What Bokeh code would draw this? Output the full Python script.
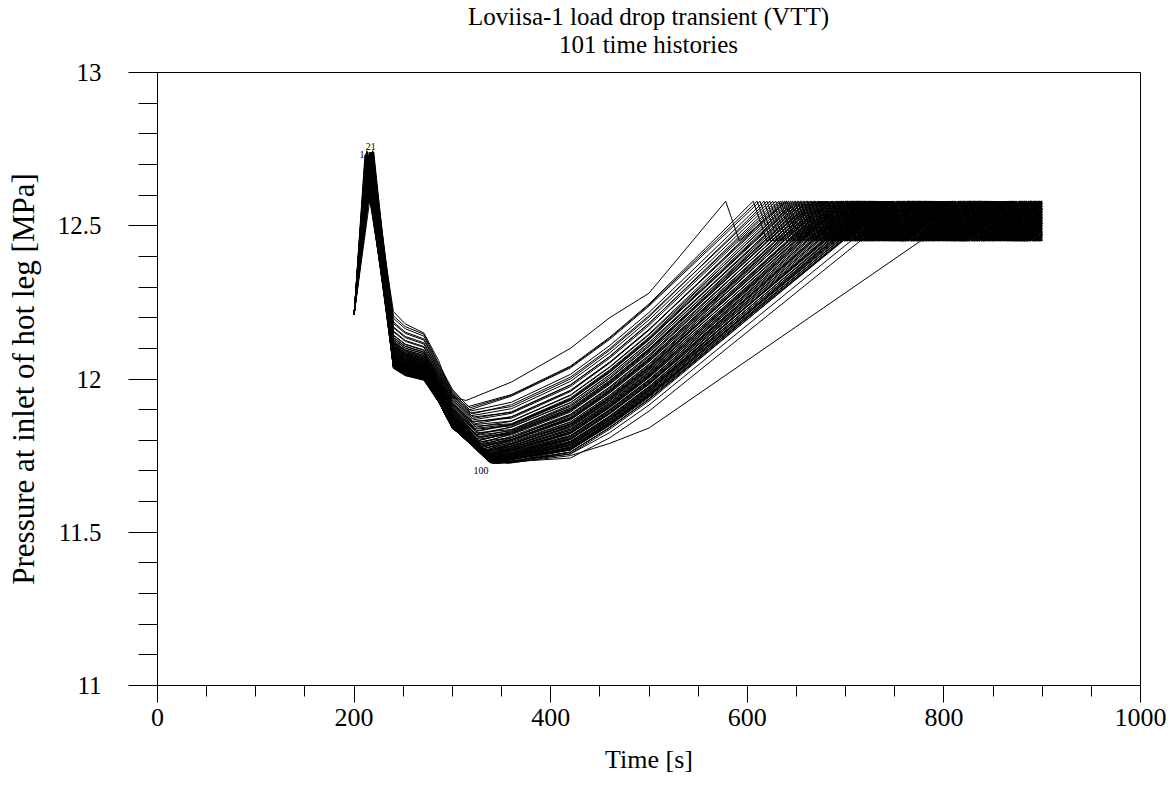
from bokeh.plotting import figure
from bokeh.models import Range1d, SingleIntervalTicker, CustomJSTickFormatter, Div
from bokeh.layouts import column
from bokeh.embed import file_html
from bokeh.resources import INLINE
from bokeh.core.properties import value

# ---------------- data (read / estimated from the picture) ----------------
TITLE_1 = "Loviisa-1 load drop transient (VTT)"
TITLE_2 = "101 time histories"
X_LABEL = "Time [s]"
Y_LABEL = "Pressure at inlet of hot leg [MPa]"

# shared knots of all 101 runs
T_START, P_START = 200, 12.21
T_240, T_252, T_271, T_286, T_300 = 240, 252, 271, 286, 300
T_360, T_420, T_460, T_500 = 360, 420, 460, 500
T_END = 900
P_HI, P_LO = 12.58, 12.45        # pressurizer control band
SAW_DROP, SAW_RISE = 14, 48       # seconds for a drop / a rise inside the band

peak_t = [216, 214, 218, 212, 217, 215, 219, 213, 216, 211,
          218, 214, 216, 220, 213, 217, 215, 212, 219, 216,
          214, 217, 211, 215, 218, 213, 216, 219, 214, 217,
          212, 215, 218, 216, 213, 220, 215, 217, 214, 211,
          216, 218, 213, 215, 219, 214, 217, 212, 216, 218,
          215, 213, 217, 219, 214, 216, 211, 215, 218, 213,
          217, 214, 216, 220, 212, 215, 218, 214, 216, 213,
          219, 215, 217, 212, 216, 214, 218, 215, 213, 217,
          216, 211, 215, 219, 214, 217, 213, 216, 218, 215,
          212, 217, 214, 216, 219, 213, 215, 218, 214, 216, 215]

peak_p = [12.72, 12.70, 12.74, 12.69, 12.73, 12.71, 12.745, 12.68, 12.72, 12.70,
          12.73, 12.69, 12.71, 12.74, 12.68, 12.72, 12.70, 12.735, 12.69, 12.71,
          12.73, 12.70, 12.68, 12.72, 12.74, 12.69, 12.71, 12.73, 12.70, 12.725,
          12.68, 12.72, 12.74, 12.70, 12.69, 12.73, 12.71, 12.72, 12.68, 12.70,
          12.735, 12.71, 12.69, 12.72, 12.74, 12.70, 12.68, 12.73, 12.71, 12.72,
          12.69, 12.74, 12.70, 12.72, 12.68, 12.73, 12.71, 12.70, 12.725, 12.69,
          12.72, 12.74, 12.71, 12.68, 12.70, 12.73, 12.72, 12.69, 12.71, 12.745,
          12.70, 12.68, 12.72, 12.73, 12.71, 12.69, 12.74, 12.70, 12.72, 12.68,
          12.71, 12.73, 12.70, 12.72, 12.69, 12.74, 12.71, 12.68, 12.72, 12.70,
          12.73, 12.69, 12.71, 12.74, 12.70, 12.72, 12.68, 12.73, 12.71, 12.70, 12.72]

p240 = [12.220, 12.206, 12.198, 12.186, 12.181, 12.170, 12.167, 12.157, 12.154, 12.144,
        12.142, 12.136, 12.135, 12.129, 12.130, 12.124, 12.123, 12.118, 12.120, 12.114,
        12.115, 12.110, 12.111, 12.106, 12.107, 12.103, 12.104, 12.099, 12.101, 12.096,
        12.097, 12.093, 12.095, 12.090, 12.091, 12.088, 12.089, 12.084, 12.086, 12.082,
        12.083, 12.079, 12.081, 12.077, 12.078, 12.074, 12.076, 12.072, 12.073, 12.070,
        12.071, 12.068, 12.069, 12.065, 12.067, 12.063, 12.065, 12.061, 12.062, 12.059,
        12.061, 12.057, 12.059, 12.055, 12.057, 12.054, 12.055, 12.052, 12.054, 12.050,
        12.052, 12.049, 12.051, 12.048, 12.050, 12.047, 12.049, 12.046, 12.048, 12.045,
        12.047, 12.044, 12.046, 12.043, 12.045, 12.042, 12.044, 12.041, 12.043, 12.040,
        12.042, 12.039, 12.041, 12.038, 12.040, 12.037, 12.039, 12.036, 12.038, 12.035, 12.037]

p252 = [12.180, 12.171, 12.164, 12.153, 12.149, 12.139, 12.135, 12.126, 12.123, 12.114,
        12.112, 12.107, 12.106, 12.100, 12.101, 12.095, 12.095, 12.090, 12.092, 12.086,
        12.087, 12.082, 12.083, 12.079, 12.080, 12.076, 12.077, 12.072, 12.074, 12.069,
        12.070, 12.066, 12.068, 12.063, 12.065, 12.061, 12.062, 12.058, 12.060, 12.056,
        12.057, 12.053, 12.055, 12.051, 12.052, 12.048, 12.050, 12.046, 12.047, 12.044,
        12.045, 12.042, 12.043, 12.040, 12.041, 12.038, 12.039, 12.036, 12.037, 12.034,
        12.036, 12.032, 12.034, 12.031, 12.033, 12.029, 12.031, 12.028, 12.030, 12.026,
        12.028, 12.025, 12.027, 12.024, 12.026, 12.023, 12.025, 12.022, 12.024, 12.021,
        12.023, 12.020, 12.022, 12.019, 12.021, 12.018, 12.020, 12.017, 12.019, 12.016,
        12.018, 12.015, 12.017, 12.014, 12.016, 12.013, 12.015, 12.012, 12.014, 12.011, 12.013]

p271 = [12.150, 12.146, 12.140, 12.131, 12.127, 12.118, 12.114, 12.106, 12.103, 12.095,
        12.093, 12.088, 12.087, 12.082, 12.083, 12.077, 12.077, 12.072, 12.074, 12.068,
        12.069, 12.065, 12.066, 12.061, 12.062, 12.058, 12.059, 12.055, 12.056, 12.052,
        12.053, 12.049, 12.051, 12.046, 12.048, 12.044, 12.045, 12.041, 12.043, 12.039,
        12.040, 12.036, 12.038, 12.034, 12.036, 12.032, 12.033, 12.030, 12.031, 12.028,
        12.029, 12.026, 12.028, 12.024, 12.026, 12.022, 12.024, 12.021, 12.022, 12.019,
        12.021, 12.017, 12.019, 12.016, 12.018, 12.014, 12.016, 12.013, 12.015, 12.011,
        12.013, 12.010, 12.012, 12.009, 12.011, 12.008, 12.010, 12.007, 12.009, 12.006,
        12.008, 12.005, 12.007, 12.004, 12.006, 12.003, 12.005, 12.002, 12.004, 12.001,
        12.003, 12.000, 12.002, 11.999, 12.001, 11.998, 12.000, 11.997, 11.999, 11.996, 11.998]

p286 = [12.060, 12.050, 12.045, 12.040, 12.035, 12.030, 12.026, 12.022, 12.018, 12.014,
        12.011, 12.008, 12.005, 12.002, 12.000, 11.997, 11.995, 11.992, 11.990, 11.988,
        11.986, 11.984, 11.982, 11.980, 11.978, 11.977, 11.975, 11.973, 11.972, 11.970,
        11.969, 11.967, 11.966, 11.965, 11.963, 11.962, 11.961, 11.960, 11.958, 11.957,
        11.956, 11.955, 11.954, 11.953, 11.952, 11.951, 11.950, 11.949, 11.948, 11.947,
        11.947, 11.946, 11.945, 11.944, 11.944, 11.943, 11.942, 11.941, 11.941, 11.940,
        11.940, 11.939, 11.938, 11.938, 11.937, 11.937, 11.936, 11.936, 11.935, 11.935,
        11.934, 11.934, 11.933, 11.933, 11.933, 11.932, 11.932, 11.931, 11.931, 11.931,
        11.930, 11.930, 11.930, 11.929, 11.929, 11.929, 11.928, 11.928, 11.928, 11.928,
        11.927, 11.927, 11.927, 11.927, 11.926, 11.926, 11.926, 11.926, 11.925, 11.925, 11.925]

p300 = [11.940, 11.966, 11.961, 11.958, 11.953, 11.950, 11.946, 11.942, 11.939, 11.935,
        11.932, 11.929, 11.925, 11.922, 11.920, 11.917, 11.914, 11.912, 11.909, 11.907,
        11.904, 11.902, 11.900, 11.898, 11.896, 11.894, 11.892, 11.890, 11.889, 11.887,
        11.886, 11.884, 11.883, 11.881, 11.880, 11.879, 11.877, 11.876, 11.875, 11.874,
        11.873, 11.871, 11.870, 11.869, 11.868, 11.867, 11.866, 11.865, 11.864, 11.863,
        11.862, 11.861, 11.861, 11.860, 11.859, 11.858, 11.857, 11.857, 11.856, 11.855,
        11.855, 11.854, 11.853, 11.853, 11.852, 11.851, 11.851, 11.850, 11.850, 11.849,
        11.849, 11.848, 11.848, 11.847, 11.847, 11.846, 11.846, 11.846, 11.845, 11.845,
        11.844, 11.844, 11.844, 11.843, 11.843, 11.843, 11.842, 11.842, 11.842, 11.842,
        11.841, 11.841, 11.841, 11.841, 11.840, 11.840, 11.840, 11.840, 11.840, 11.840, 11.838]

min_t = [314, 316, 318, 317, 319, 318, 320, 319, 321, 320,
         322, 321, 320, 323, 322, 321, 324, 323, 322, 325,
         324, 323, 326, 325, 324, 327, 326, 325, 328, 327,
         326, 328, 327, 329, 328, 327, 330, 329, 328, 330,
         329, 331, 330, 329, 332, 331, 330, 332, 331, 333,
         332, 331, 333, 332, 334, 333, 332, 334, 333, 335,
         334, 333, 335, 334, 336, 335, 334, 336, 335, 337,
         336, 335, 337, 336, 338, 337, 336, 338, 337, 339,
         338, 337, 339, 338, 340, 339, 338, 340, 339, 341,
         340, 339, 341, 340, 342, 341, 343, 345, 348, 352, 355]

min_p = [11.930, 11.910, 11.906, 11.899, 11.896, 11.889, 11.886, 11.880, 11.876, 11.871,
         11.867, 11.862, 11.859, 11.854, 11.851, 11.846, 11.843, 11.839, 11.836, 11.831,
         11.829, 11.824, 11.822, 11.818, 11.816, 11.812, 11.810, 11.806, 11.804, 11.800,
         11.798, 11.795, 11.793, 11.790, 11.788, 11.785, 11.784, 11.781, 11.779, 11.777,
         11.775, 11.773, 11.771, 11.769, 11.768, 11.766, 11.764, 11.763, 11.761, 11.760,
         11.758, 11.757, 11.755, 11.754, 11.753, 11.751, 11.750, 11.749, 11.748, 11.747,
         11.746, 11.745, 11.744, 11.743, 11.742, 11.741, 11.741, 11.740, 11.739, 11.738,
         11.737, 11.737, 11.736, 11.735, 11.735, 11.734, 11.733, 11.733, 11.732, 11.732,
         11.731, 11.731, 11.730, 11.730, 11.729, 11.729, 11.728, 11.728, 11.728, 11.727,
         11.727, 11.726, 11.726, 11.726, 11.725, 11.725, 11.725, 11.724, 11.730, 11.728, 11.725]

p360 = [11.990, 11.949, 11.947, 11.944, 11.924, 11.910, 11.916, 11.903, 11.891, 11.893,
        11.888, 11.872, 11.877, 11.876, 11.863, 11.854, 11.862, 11.852, 11.847, 11.852,
        11.850, 11.835, 11.843, 11.843, 11.831, 11.822, 11.834, 11.828, 11.821, 11.828,
        11.825, 11.809, 11.818, 11.822, 11.808, 11.801, 11.813, 11.803, 11.800, 11.808,
        11.803, 11.791, 11.798, 11.801, 11.788, 11.781, 11.795, 11.787, 11.781, 11.789,
        11.787, 11.775, 11.780, 11.783, 11.773, 11.768, 11.777, 11.770, 11.766, 11.775,
        11.770, 11.759, 11.767, 11.769, 11.760, 11.750, 11.765, 11.758, 11.754, 11.763,
        11.758, 11.746, 11.755, 11.759, 11.749, 11.739, 11.753, 11.746, 11.743, 11.751,
        11.750, 11.738, 11.744, 11.747, 11.739, 11.731, 11.745, 11.739, 11.736, 11.741,
        11.740, 11.728, 11.737, 11.739, 11.731, 11.726, 11.738, 11.732, 11.733, 11.730, 11.727]

p420 = [12.100, 12.042, 12.039, 12.036, 12.015, 12.000, 12.006, 11.992, 11.980, 11.981,
        11.975, 11.959, 11.963, 11.962, 11.948, 11.938, 11.946, 11.935, 11.930, 11.934,
        11.931, 11.916, 11.923, 11.922, 11.910, 11.900, 11.912, 11.905, 11.897, 11.904,
        11.900, 11.884, 11.892, 11.895, 11.881, 11.873, 11.885, 11.874, 11.870, 11.878,
        11.872, 11.859, 11.866, 11.868, 11.855, 11.847, 11.860, 11.852, 11.845, 11.853,
        11.850, 11.837, 11.841, 11.844, 11.833, 11.827, 11.836, 11.828, 11.823, 11.832,
        11.826, 11.814, 11.821, 11.823, 11.813, 11.802, 11.816, 11.809, 11.804, 11.812,
        11.806, 11.794, 11.802, 11.805, 11.795, 11.784, 11.797, 11.789, 11.786, 11.793,
        11.791, 11.779, 11.784, 11.786, 11.777, 11.769, 11.782, 11.775, 11.771, 11.776,
        11.774, 11.761, 11.769, 11.771, 11.762, 11.756, 11.768, 11.761, 11.755, 11.742, 11.750]

p460 = [12.200, 12.136, 12.133, 12.129, 12.109, 12.094, 12.099, 12.085, 12.073, 12.074,
        12.068, 12.052, 12.055, 12.054, 12.040, 12.030, 12.038, 12.027, 12.021, 12.025,
        12.022, 12.007, 12.014, 12.013, 12.001, 11.990, 12.002, 11.995, 11.987, 11.994,
        11.990, 11.974, 11.982, 11.984, 11.970, 11.962, 11.974, 11.963, 11.959, 11.966,
        11.960, 11.947, 11.954, 11.956, 11.943, 11.935, 11.947, 11.939, 11.932, 11.940,
        11.937, 11.924, 11.928, 11.930, 11.919, 11.913, 11.922, 11.914, 11.909, 11.917,
        11.911, 11.899, 11.906, 11.908, 11.898, 11.887, 11.901, 11.893, 11.888, 11.896,
        11.890, 11.878, 11.886, 11.888, 11.878, 11.867, 11.880, 11.872, 11.869, 11.876,
        11.873, 11.861, 11.866, 11.868, 11.859, 11.851, 11.864, 11.856, 11.852, 11.857,
        11.855, 11.842, 11.850, 11.852, 11.842, 11.836, 11.848, 11.841, 11.825, 11.808, 11.790]

p500 = [12.280, 12.245, 12.242, 12.238, 12.217, 12.202, 12.207, 12.193, 12.181, 12.182,
        12.175, 12.159, 12.162, 12.161, 12.147, 12.136, 12.144, 12.133, 12.127, 12.131,
        12.128, 12.112, 12.119, 12.118, 12.106, 12.095, 12.107, 12.099, 12.091, 12.098,
        12.094, 12.078, 12.085, 12.087, 12.073, 12.065, 12.077, 12.066, 12.061, 12.068,
        12.062, 12.049, 12.056, 12.058, 12.044, 12.036, 12.048, 12.040, 12.033, 12.040,
        12.037, 12.024, 12.028, 12.030, 12.019, 12.012, 12.021, 12.013, 12.008, 12.016,
        12.010, 11.997, 12.004, 12.006, 11.996, 11.985, 11.998, 11.990, 11.985, 11.993,
        11.987, 11.975, 11.982, 11.984, 11.974, 11.963, 11.976, 11.968, 11.964, 11.971,
        11.968, 11.956, 11.961, 11.963, 11.953, 11.945, 11.958, 11.950, 11.946, 11.950,
        11.948, 11.935, 11.943, 11.945, 11.935, 11.928, 11.940, 11.933, 11.915, 11.895, 11.840]

top_t = [578, 606, 610, 613, 617, 620, 623, 626, 629, 632,
         634, 636, 638, 640, 642, 644, 646, 648, 649, 651,
         652, 654, 655, 657, 658, 660, 661, 662, 664, 665,
         666, 668, 669, 670, 672, 673, 674, 676, 677, 678,
         680, 681, 682, 683, 685, 686, 687, 688, 690, 691,
         692, 693, 695, 696, 697, 698, 700, 701, 702, 703,
         705, 706, 707, 708, 709, 711, 712, 713, 714, 715,
         717, 718, 719, 720, 721, 723, 724, 725, 726, 727,
         728, 729, 731, 732, 733, 734, 735, 736, 737, 739,
         740, 741, 742, 743, 744, 745, 746, 747, 755, 765, 835]

# small run-number labels written by the plotting program
label_text = ["1", "21", "100"]
label_t = [208, 217, 329]
label_p = [12.733, 12.758, 11.703]

# ---------------- build the curves ----------------
xs, ys = [], []
for i in range(len(peak_t)):
    t = [T_START, peak_t[i], T_240, T_252, T_271, T_286, T_300, min_t[i],
         T_360, T_420, T_460, T_500, top_t[i]]
    p = [P_START, peak_p[i], p240[i], p252[i], p271[i], p286[i], p300[i], min_p[i],
         p360[i], p420[i], p460[i], p500[i], P_HI]
    cur_t, cur_p = top_t[i], P_HI
    while cur_t < T_END:
        if cur_p == P_HI:
            nt, np_ = cur_t + SAW_DROP, P_LO
        else:
            nt, np_ = cur_t + SAW_RISE, P_HI
        if nt > T_END:  # the runs stop at 900 s
            frac = (T_END - cur_t) / (nt - cur_t)
            nt, np_ = T_END, cur_p + frac * (np_ - cur_p)
        t.append(nt)
        p.append(np_)
        cur_t, cur_p = nt, np_
    xs.append(t)
    ys.append(p)

# ---------------- layout ----------------
FONT = "Liberation Serif"
TITLE_H = 60

title_div = Div(
    text=(f'<div style="width:983px;margin-left:157px;padding-top:3px;text-align:center;'
          f'font-family:\'{FONT}\',serif;font-size:25px;line-height:28px;color:#000;">'
          f'{TITLE_1}<br>{TITLE_2}</div>'),
    width=1176, height=TITLE_H, margin=0)

p = figure(width=1176, height=787 - TITLE_H, output_backend="svg", toolbar_location=None,
           x_range=Range1d(0, 1000), y_range=Range1d(11, 13),
           min_border_left=157, min_border_right=36, min_border_top=72 - TITLE_H,
           min_border_bottom=102, margin=0)

p.multi_line(xs, ys, line_color="black", line_width=1)

p.text(x=label_t, y=label_p, text=label_text, text_font=value(FONT),
       text_font_size="10px", text_align="center", text_baseline="middle",
       text_color="black")

p.xgrid.visible = False
p.ygrid.visible = False
p.outline_line_color = "black"
p.outline_line_width = 1
p.background_fill_color = "white"
p.border_fill_color = "white"

xa = p.xaxis[0]
xa.ticker = SingleIntervalTicker(interval=200, num_minor_ticks=4)
xa.axis_label = X_LABEL
xa.major_tick_out = 17
xa.major_tick_in = 0
xa.minor_tick_out = 11
xa.minor_tick_in = 0
xa.major_label_standoff = 6
xa.axis_label_standoff = 16
xa.major_label_text_font_size = "26px"
xa.axis_label_text_font_size = "26px"

ya = p.yaxis[0]
ya.ticker = SingleIntervalTicker(interval=0.5, num_minor_ticks=5)
ya.formatter = CustomJSTickFormatter(code="return String(Math.round(tick * 10) / 10);")
ya.axis_label = Y_LABEL
ya.major_tick_out = 29
ya.major_tick_in = 0
ya.minor_tick_out = 19
ya.minor_tick_in = 0
ya.major_label_standoff = 27
ya.axis_label_standoff = 14
ya.major_label_text_font_size = "25px"
ya.axis_label_text_font_size = "31px"

for ax in (xa, ya):
    ax.axis_line_color = "black"
    ax.major_tick_line_color = "black"
    ax.minor_tick_line_color = "black"
    ax.major_label_text_font = FONT
    ax.axis_label_text_font = FONT
    ax.axis_label_text_font_style = "normal"
    ax.major_label_text_color = "black"
    ax.axis_label_text_color = "black"

layout = column(title_div, p, spacing=0)
open("out.html", "w").write(file_html(layout, INLINE))
